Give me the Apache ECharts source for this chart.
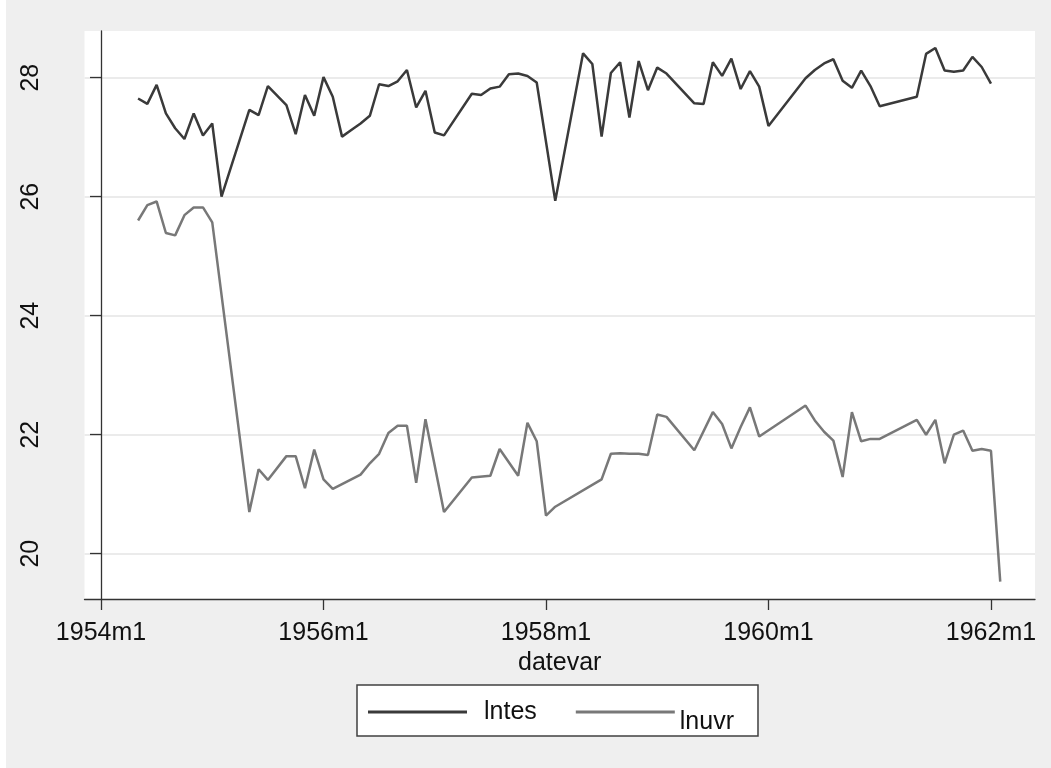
<!DOCTYPE html>
<html>
<head>
<meta charset="utf-8">
<script src="https://cdn.jsdelivr.net/npm/echarts@6/dist/echarts.min.js"></script>
<style>
html,body{margin:0;padding:0;background:#fff;}
#chart{width:1051px;height:768px;}
</style>
</head>
<body>
<div id="chart"></div>
<script>
// months counted from 1954m1 (0 = 1954m1)
var xTickMonths = [0, 24, 48, 72, 96];
var xTickLabels = ['1954m1', '1956m1', '1958m1', '1960m1', '1962m1'];
var yTickValues = [20, 22, 24, 26, 28];

var lntesMonths = [4,5,6,7,8,9,10,11,12,13,16,17,18,20,21,22,23,24,25,26,27,28,29,30,31,32,33,34,35,36,37,40,41,42,43,44,45,46,47,49,52,53,54,55,56,57,58,59,60,61,64,65,66,67,68,69,70,71,72,76,77,78,79,80,81,82,83,84,88,89,90,91,92,93,94,95,96];
var lntesValues = [27.65,27.56,27.88,27.40,27.15,26.97,27.40,27.03,27.23,26.00,27.46,27.37,27.86,27.54,27.05,27.71,27.36,28.01,27.68,27.01,27.12,27.23,27.36,27.89,27.86,27.94,28.13,27.50,27.78,27.08,27.03,27.73,27.71,27.82,27.85,28.06,28.07,28.03,27.92,25.93,28.41,28.23,27.01,28.08,28.26,27.33,28.28,27.79,28.17,28.07,27.57,27.56,28.26,28.03,28.32,27.81,28.11,27.85,27.19,27.99,28.13,28.24,28.31,27.95,27.83,28.12,27.86,27.52,27.68,28.40,28.50,28.12,28.10,28.12,28.35,28.18,27.90];

var lnuvrMonths = [4,5,6,7,8,9,10,11,12,16,17,18,20,21,22,23,24,25,28,29,30,31,32,33,34,35,37,40,42,43,45,46,47,48,49,54,55,56,57,58,59,60,61,64,66,67,68,69,70,71,76,77,78,79,80,81,82,83,84,88,89,90,91,92,93,94,95,96,97];
var lnuvrValues = [25.60,25.86,25.92,25.39,25.35,25.69,25.82,25.82,25.57,20.70,21.42,21.24,21.64,21.64,21.10,21.75,21.25,21.09,21.33,21.52,21.68,22.03,22.15,22.15,21.19,22.26,20.70,21.28,21.31,21.76,21.31,22.20,21.89,20.64,20.79,21.25,21.68,21.69,21.68,21.68,21.66,22.34,22.30,21.74,22.38,22.18,21.77,22.13,22.46,21.97,22.49,22.24,22.05,21.90,21.29,22.38,21.89,21.93,21.93,22.25,22.00,22.25,21.52,22.00,22.07,21.73,21.76,21.73,19.53];

function zip(a, b) { return a.map(function (m, i) { return [m, b[i]]; }); }

var FONT = 'Liberation Sans, Arial, sans-serif';
var chart = echarts.init(document.getElementById('chart'), null, {renderer: 'canvas'});
chart.setOption({
  backgroundColor: '#efefef',
  animation: false,
  graphic: [{
    type: 'rect', left: 0, top: 0, silent: true,
    shape: {width: 6, height: 768}, style: {fill: '#ffffff'}
  }],
  grid: {
    left: 84.5, right: 16, top: 31, bottom: 169,
    show: true, backgroundColor: '#ffffff', borderWidth: 0
  },
  legend: {
    left: 357, top: 685,
    orient: 'horizontal',
    backgroundColor: '#ffffff',
    borderColor: '#404040', borderWidth: 1.5, borderRadius: 0,
    padding: [14.5, 24, 1, 11],
    itemWidth: 99, itemHeight: 3, itemGap: 39,
    icon: 'rect',
    textStyle: {
      fontFamily: FONT, fontSize: 25, color: '#111',
      rich: {
        a: {fontFamily: FONT, fontSize: 25, color: '#111', lineHeight: 46, verticalAlign: 'middle', padding: [0, 0, 0, 12]},
        b: {fontFamily: FONT, fontSize: 25, color: '#111', lineHeight: 46, verticalAlign: 'bottom'}
      }
    },
    formatter: function (name) {
      return name === 'lntes' ? '{a|' + name + '}' : '{b|' + name + '}';
    },
    data: ['lntes', 'lnuvr']
  },
  xAxis: {
    type: 'value',
    min: -1.78, max: 100.75,
    name: 'datevar', nameLocation: 'middle', nameGap: 47,
    nameTextStyle: {fontFamily: FONT, fontSize: 25, color: '#111'},
    axisLine: {onZero: false, lineStyle: {color: '#333', width: 1.3}},
    axisTick: {customValues: xTickMonths, length: 11, lineStyle: {color: '#333', width: 1.3}},
    axisLabel: {
      customValues: xTickMonths, margin: 22,
      fontFamily: FONT, fontSize: 25, color: '#111',
      formatter: function (v) { var i = xTickMonths.indexOf(v); return i >= 0 ? xTickLabels[i] : ''; }
    },
    splitLine: {show: false}
  },
  yAxis: {
    type: 'value',
    min: 19.239, max: 28.785,
    axisLine: {show: true, lineStyle: {color: '#333', width: 1.3}},
    axisTick: {show: true, customValues: yTickValues, length: 11, lineStyle: {color: '#333', width: 1.3}},
    axisLabel: {
      customValues: yTickValues, rotate: 90, margin: 41,
      fontFamily: FONT, fontSize: 25, color: '#111'
    },
    splitLine: {show: true, lineStyle: {color: '#ebebeb', width: 2}}
  },
  series: [
    {
      name: 'lntes', type: 'line', data: zip(lntesMonths, lntesValues),
      symbol: 'none', color: '#3a3a3a',
      lineStyle: {color: '#3a3a3a', width: 2.5}
    },
    {
      name: 'lnuvr', type: 'line', data: zip(lnuvrMonths, lnuvrValues),
      symbol: 'none', color: '#787878',
      lineStyle: {color: '#787878', width: 2.5}
    }
  ]
});
</script>
</body>
</html>
